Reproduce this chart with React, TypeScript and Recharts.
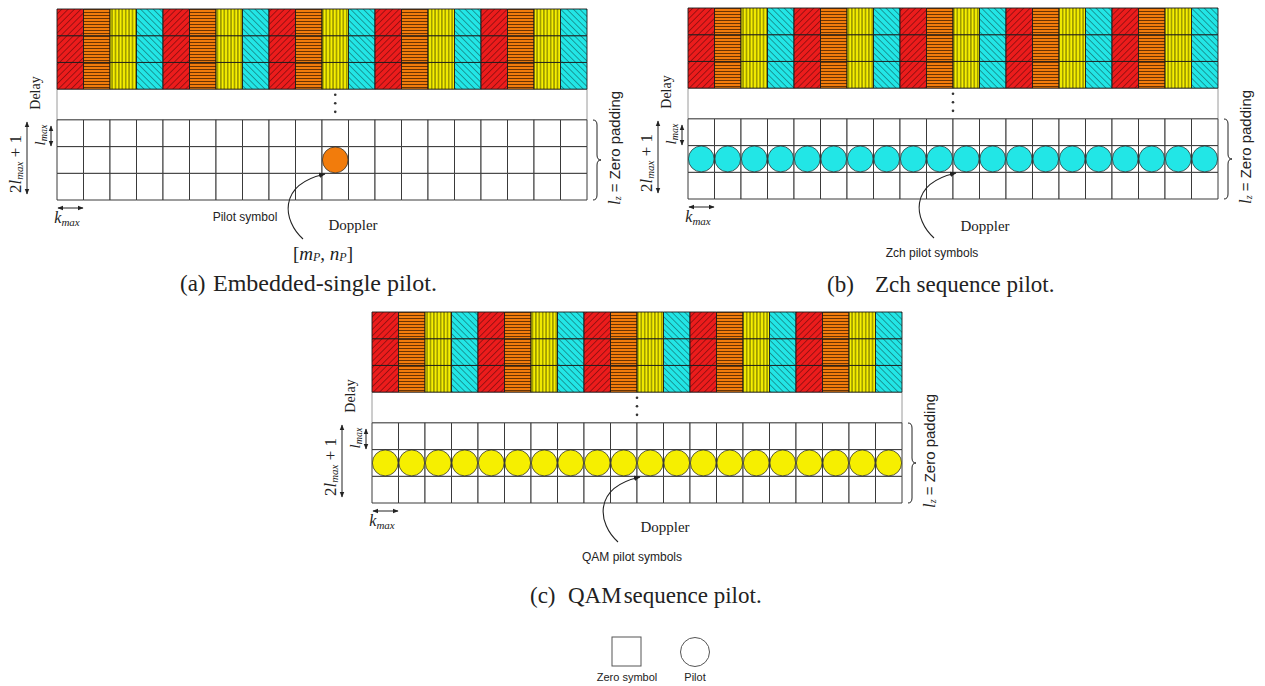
import React from "react";
import { ReferenceArea, ReferenceDot, Scatter, ScatterChart, XAxis, YAxis } from "recharts";

// Doppler bins (columns) and the symbol type that fills each column of the data rows
const dopplerBins = [0, 1, 2, 3, 4, 5, 6, 7, 8, 9, 10, 11, 12, 13, 14, 15, 16, 17, 18, 19];
const columnSymbols = [
  "red", "orange", "yellow", "cyan", "red", "orange", "yellow", "cyan", "red", "orange",
  "yellow", "cyan", "red", "orange", "yellow", "cyan", "red", "orange", "yellow", "cyan",
];
// delay rows: 3 data rows on top, 3 zero-padding rows at the bottom, a gap between
const dataRows = [0, 1, 2];
const zeroRows = [0, 1, 2];
const gapRows = 1.15;
const pilotRow = 1;

// pilot placements (doppler bin) per scheme
const embeddedPilotBins = [10];
const zchPilotBins = [0, 1, 2, 3, 4, 5, 6, 7, 8, 9, 10, 11, 12, 13, 14, 15, 16, 17, 18, 19];
const qamPilotBins = [0, 1, 2, 3, 4, 5, 6, 7, 8, 9, 10, 11, 12, 13, 14, 15, 16, 17, 18, 19];

const GRID_W = 530;
const GRID_H = 191;
const SERIF = "'Liberation Serif', 'Times New Roman', serif";
const SANS = "'Liberation Sans', Arial, sans-serif";
const INK = "#222";

const symbolFill: Record<string, string> = {
  red: "#ec1c1c",
  orange: "#f27c0c",
  yellow: "#f6ef00",
  cyan: "#22e6e6",
};

function hatchDefs(id: string) {
  return (
    <defs>
      <pattern id={`${id}-red`} patternUnits="userSpaceOnUse" width={4.5} height={4.5} patternTransform="rotate(45)">
        <rect width={4.5} height={4.5} fill={symbolFill.red} />
        <line x1={0} y1={0} x2={0} y2={4.5} stroke="#3a0606" strokeWidth={0.9} />
      </pattern>
      <pattern id={`${id}-orange`} patternUnits="userSpaceOnUse" width={4} height={3}>
        <rect width={4} height={3} fill={symbolFill.orange} />
        <line x1={0} y1={1.5} x2={4} y2={1.5} stroke="#4a2200" strokeWidth={0.8} />
      </pattern>
      <pattern id={`${id}-yellow`} patternUnits="userSpaceOnUse" width={3.4} height={4}>
        <rect width={3.4} height={4} fill={symbolFill.yellow} />
        <line x1={1.7} y1={0} x2={1.7} y2={4} stroke="#333300" strokeWidth={0.8} />
      </pattern>
      <pattern id={`${id}-cyan`} patternUnits="userSpaceOnUse" width={4.5} height={4.5} patternTransform="rotate(-45)">
        <rect width={4.5} height={4.5} fill={symbolFill.cyan} />
        <line x1={0} y1={0} x2={0} y2={4.5} stroke="#0b3a3a" strokeWidth={0.9} />
      </pattern>
    </defs>
  );
}

type GridProps = {
  id: string;
  left: number;
  top: number;
  pilotBins: number[];
  pilotColor: string;
  dotsAt: number;
};

function DDGrid({ id, left, top, pilotBins, pilotColor, dotsAt }: GridProps) {
  const cols = dopplerBins.length;
  const gapTop = zeroRows.length + gapRows;
  const yMax = gapTop + dataRows.length;
  const cellW = GRID_W / cols;
  const cellH = GRID_H / yMax;
  const pilots = pilotBins.map((b) => ({ x: b + 0.5, y: pilotRow + 0.5 }));

  return (
    <div style={{ position: "absolute", left: left - 1, top: top - 1 }}>
      <ScatterChart width={GRID_W + 2} height={GRID_H + 2} margin={{ top: 1, right: 1, bottom: 1, left: 1 }}>
        {hatchDefs(id)}
        <XAxis type="number" dataKey="x" domain={[0, cols]} hide allowDataOverflow />
        <YAxis type="number" dataKey="y" domain={[0, yMax]} hide allowDataOverflow />
        <ReferenceArea x1={0} x2={cols} y1={zeroRows.length} y2={gapTop} fill="#fff" fillOpacity={1} stroke="#9a9a9a" strokeWidth={1} />
        {dataRows.map((r) =>
          dopplerBins.map((b) => (
            <ReferenceArea
              key={`d-${r}-${b}`}
              x1={b}
              x2={b + 1}
              y1={gapTop + r}
              y2={gapTop + r + 1}
              fill={`url(#${id}-${columnSymbols[b]})`}
              fillOpacity={1}
              stroke="#1c1c1c"
              strokeWidth={0.9}
            />
          ))
        )}
        {zeroRows.map((r) =>
          dopplerBins.map((b) => (
            <ReferenceArea
              key={`z-${r}-${b}`}
              x1={b}
              x2={b + 1}
              y1={r}
              y2={r + 1}
              fill="#fff"
              fillOpacity={1}
              stroke="#3a3a3a"
              strokeWidth={1}
            />
          ))
        )}
        {[0.3, 0.62, 0.94].map((f) => (
          <ReferenceDot key={f} x={dotsAt} y={zeroRows.length + f} r={1.3} fill="#333" stroke="none" />
        ))}
        <Scatter
          data={pilots}
          isAnimationActive={false}
          shape={(p: any) => (
            <ellipse cx={p.cx} cy={p.cy} rx={cellW / 2 - 0.4} ry={cellH / 2 - 0.4} fill={pilotColor} stroke="#333" strokeWidth={0.8} />
          )}
        />
      </ScatterChart>
    </div>
  );
}

// side / bottom annotations drawn relative to a grid's top-left corner
function GridNotes({ left, top, pilotText, pilotTextX, pilotTextY, dopplerX, dopplerY }: {
  left: number; top: number; pilotText: string; pilotTextX: number; pilotTextY: number; dopplerX: number; dopplerY: number;
}) {
  return (
    <g transform={`translate(${left},${top})`} fill={INK}>
      <text transform="translate(-22,84) rotate(-90)" textAnchor="middle" dominantBaseline="central" fontFamily={SERIF} fontSize={14}>
        Delay
      </text>
      <line x1={-30} y1={113} x2={-30} y2={185} stroke={INK} strokeWidth={1} markerStart="url(#ah)" markerEnd="url(#ah)" />
      <text transform="translate(-42,155) rotate(-90)" textAnchor="middle" dominantBaseline="central" fontFamily={SERIF} fontSize={17}>
        2<tspan fontStyle="italic">l</tspan>
        <tspan fontStyle="italic" fontSize={11} dy={4}>max</tspan>
        <tspan dy={-4}> + 1</tspan>
      </text>
      <text transform="translate(-17,126) rotate(-90)" textAnchor="middle" dominantBaseline="central" fontFamily={SERIF} fontSize={15}>
        <tspan fontStyle="italic">l</tspan>
        <tspan fontStyle="italic" fontSize={10} dy={3}>max</tspan>
      </text>
      <line x1={-6} y1={117} x2={-6} y2={137} stroke={INK} strokeWidth={1} markerStart="url(#ah)" markerEnd="url(#ah)" />
      <line x1={1} y1={199} x2={26} y2={199} stroke={INK} strokeWidth={1} markerStart="url(#ah)" markerEnd="url(#ah)" />
      <text x={10} y={214} textAnchor="middle" fontFamily={SERIF} fontSize={16}>
        <tspan fontStyle="italic">k</tspan>
        <tspan fontStyle="italic" fontSize={11} dy={3}>max</tspan>
      </text>
      <path d="M536,111 Q540,111 540,116 L540,146 Q540,151 544,151 Q540,151 540,156 L540,186 Q540,191 536,191" fill="none" stroke={INK} strokeWidth={1} />
      <text transform="translate(557,139) rotate(-90)" textAnchor="middle" dominantBaseline="central" fontSize={15}>
        <tspan fontFamily={SERIF} fontStyle="italic" fontSize={17}>l</tspan>
        <tspan fontFamily={SERIF} fontStyle="italic" fontSize={10} dy={3}>z</tspan>
        <tspan fontFamily={SANS} dy={-3}> = Zero padding</tspan>
      </text>
      <path d="M246,230 C226,212 220,176 268,165" fill="none" stroke={INK} strokeWidth={1.1} markerEnd="url(#ah)" />
      <text x={pilotTextX} y={pilotTextY} textAnchor="middle" dominantBaseline="central" fontFamily={SANS} fontSize={12}>
        {pilotText}
      </text>
      <text x={dopplerX} y={dopplerY} textAnchor="middle" dominantBaseline="central" fontFamily={SERIF} fontSize={15}>
        Doppler
      </text>
    </g>
  );
}

export default function App() {
  return (
    <div style={{ position: "fixed", left: 0, top: 0, width: 1265, height: 686, background: "#fff", overflow: "hidden" }}>
      <DDGrid id="pa" left={57} top={9} pilotBins={embeddedPilotBins} pilotColor="#f27c0c" dotsAt={10.5} />
      <DDGrid id="pb" left={688} top={8} pilotBins={zchPilotBins} pilotColor="#22e6e6" dotsAt={10} />
      <DDGrid id="pc" left={372} top={312} pilotBins={qamPilotBins} pilotColor="#f6ef00" dotsAt={10} />
      <svg width={1265} height={686} style={{ position: "absolute", left: 0, top: 0, pointerEvents: "none" }}>
        <defs>
          <marker id="ah" viewBox="0 0 10 10" refX={9} refY={5} markerWidth={6} markerHeight={6} orient="auto-start-reverse">
            <path d="M0,1 L10,5 L0,9 z" fill={INK} />
          </marker>
        </defs>
        <GridNotes left={57} top={9} pilotText="Pilot symbol" pilotTextX={188} pilotTextY={208} dopplerX={296} dopplerY={216} />
        <text x={323} y={253} textAnchor="middle" dominantBaseline="central" fontFamily={SERIF} fontSize={19} fill={INK}>
          [<tspan fontStyle="italic">m</tspan>
          <tspan fontStyle="italic" fontSize={12} dy={4}>P</tspan>
          <tspan dy={-4}>, </tspan>
          <tspan fontStyle="italic">n</tspan>
          <tspan fontStyle="italic" fontSize={12} dy={4}>P</tspan>
          <tspan dy={-4}>]</tspan>
        </text>
        <GridNotes left={688} top={8} pilotText="Zch pilot symbols" pilotTextX={244} pilotTextY={245} dopplerX={297} dopplerY={218} />
        <GridNotes left={372} top={312} pilotText="QAM pilot symbols" pilotTextX={260} pilotTextY={245} dopplerX={293} dopplerY={215} />

        <g fontFamily={SERIF} fontSize={23} fill={INK}>
          <text x={180} y={291}>(a)</text>
          <text x={213} y={291} fontSize={24}>Embedded-single pilot.</text>
          <text x={827} y={292}>(b)</text>
          <text x={875} y={292}>Zch sequence pilot.</text>
          <text x={530} y={603}>(c)</text>
          <text x={568} y={603}>QAM<tspan dx={2}>sequence pilot.</tspan></text>
        </g>

        <rect x={612} y={637} width={29} height={29} fill="none" stroke="#555" strokeWidth={1} />
        <circle cx={695} cy={652} r={14.5} fill="none" stroke="#555" strokeWidth={1} />
        <g fontFamily={SANS} fontSize={11} fill={INK} textAnchor="middle">
          <text x={627} y={681}>Zero symbol</text>
          <text x={695} y={681}>Pilot</text>
        </g>
      </svg>
    </div>
  );
}
